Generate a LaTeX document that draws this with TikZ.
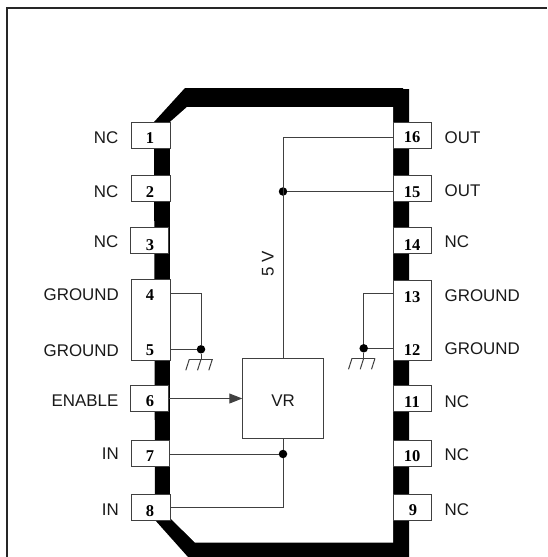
\documentclass[tikz,border=0pt]{standalone}
\usepackage{fontspec}
\setmainfont{Liberation Sans}
\newfontfamily\numfont{Liberation Serif}
\usetikzlibrary{arrows.meta}
\tikzset{
  x=1pt,y=-1pt,
  pinbox/.style={draw=black!75,fill=white,line width=1pt,inner sep=0pt},
  pinnum/.style={font=\numfont\bfseries\fontsize{16.5}{17}\selectfont,inner sep=0pt,anchor=base},
  lab/.style={font=\fontsize{16.9}{18}\selectfont,inner sep=0pt,text=black!90},
  wire/.style={draw=black!75,line width=1pt},
  dotn/.style={circle,fill=black,inner sep=0pt,minimum size=8.5pt},
}
\begin{document}
\begin{tikzpicture}
\useasboundingbox (0,0) rectangle (547,557);
% frame
\draw[black!85,line width=2pt] (7,557) -- (7,8) -- (547,8);
% package body
\fill[black] (154,122) -- (185,88) -- (403,88) -- (403,89) -- (409,89) -- (409,557) -- (188,557) -- (155,520) -- cycle;
\fill[white] (170,122) -- (187,107) -- (393,107) -- (393,542.5) -- (195,542.5) -- (170,518) -- cycle;
% pins left
\node[pinbox,minimum width=39pt,minimum height=26pt] (p1) at (150.5,135) {};
\node[pinbox,minimum width=39pt,minimum height=26pt] (p2) at (150.5,188) {};
\node[pinbox,minimum width=38pt,minimum height=26pt] (p3) at (149.5,240) {};
\node[pinbox,minimum width=39pt,minimum height=81pt] (p45) at (150.5,319.5) {};
\node[pinbox,minimum width=38pt,minimum height=26pt] (p6) at (149.5,398.7) {};
\node[pinbox,minimum width=38.5pt,minimum height=26pt] (p7) at (150.5,453) {};
\node[pinbox,minimum width=39pt,minimum height=26pt] (p8) at (150.5,507) {};
% pins right
\node[pinbox,minimum width=38pt,minimum height=26pt] (p16) at (412.5,135.5) {};
\node[pinbox,minimum width=38pt,minimum height=26pt] (p15) at (412.5,188) {};
\node[pinbox,minimum width=38pt,minimum height=26pt] (p14) at (412.5,240) {};
\node[pinbox,minimum width=38pt,minimum height=80pt] (p1312) at (412,320) {};
\node[pinbox,minimum width=38pt,minimum height=26pt] (p11) at (412,398.7) {};
\node[pinbox,minimum width=38pt,minimum height=26pt] (p10) at (412,453) {};
\node[pinbox,minimum width=38pt,minimum height=26pt] (p9) at (412,507) {};
% numbers
\node[pinnum] (n1) at (150,143) {1};
\node[pinnum] (n2) at (150,197) {2};
\node[pinnum] (n3) at (150,250.5) {3};
\node[pinnum] (n4) at (150,300.7) {4};
\node[pinnum] (n5) at (150,355) {5};
\node[pinnum] (n6) at (150,406.7) {6};
\node[pinnum] (n7) at (150,461) {7};
\node[pinnum] (n8) at (150,516) {8};
\node[pinnum] (n16) at (412,142) {16};
\node[pinnum] (n15) at (412,197) {15};
\node[pinnum] (n14) at (412,250) {14};
\node[pinnum] (n13) at (412,302) {13};
\node[pinnum] (n12) at (412,355) {12};
\node[pinnum] (n11) at (412,407) {11};
\node[pinnum] (n10) at (412,461) {10};
\node[pinnum] (n9) at (413,515) {9};
% labels
\node[lab,anchor=east] (l1) at (118.5,137.7) {NC};
\node[lab,anchor=east] (l2) at (118.5,191.7) {NC};
\node[lab,anchor=east] (l3) at (118.5,242) {NC};
\node[lab,anchor=east] (l4) at (119,295) {GROUND};
\node[lab,anchor=east] (l5) at (119,350.7) {GROUND};
\node[lab,anchor=east] (l6) at (118.5,400.7) {ENABLE};
\node[lab,anchor=east] (l7) at (119,454) {IN};
\node[lab,anchor=east] (l8) at (119,510) {IN};
\node[lab,anchor=west] (l16) at (444.5,137.7) {OUT};
\node[lab,anchor=west] (l15) at (444.5,190.7) {OUT};
\node[lab,anchor=west] (l14) at (444.5,242) {NC};
\node[lab,anchor=west] (l13) at (444.5,296) {GROUND};
\node[lab,anchor=west] (l12) at (444.5,349) {GROUND};
\node[lab,anchor=west] (l11) at (444.5,401.7) {NC};
\node[lab,anchor=west] (l10) at (444.5,455) {NC};
\node[lab,anchor=west] (l9) at (444.5,510) {NC};
\node[lab,rotate=90] (v5) at (268,264) {5 V};
% VR
\node[draw=black!75,line width=1pt,fill=white,minimum width=80.5pt,minimum height=79.5pt,inner sep=0pt] (vr) at (283,398.5) {};
\node[lab] (vrt) at (283,400.5) {VR};
% wiring
\coordinate (j16) at (283,137);
\node[dotn] (d15) at (283,191.5) {};
\node[dotn] (d78) at (283,454) {};
\draw[wire] (p16.west|-j16) -- (j16) -- (vr.north-|j16);
\draw[wire] (p15.west|-d15) -- (d15);
\draw[wire] (vr.south-|d78) -- (d78);
\draw[wire] (d78) |- (p8.east);
\draw[wire] (p7.east|-d78) -- (d78);
\draw[wire,-{Triangle[length=13pt,width=10pt]}] (p6.east|-vr.west) -- (vr.west);
% grounds
\node[dotn] (gl) at (201,349.3) {};
\node[dotn] (gr) at (363.7,348.3) {};
\coordinate (gl4) at (201,293);
\coordinate (gr13) at (363.7,293);
\draw[wire] (p45.east|-gl4) -- (gl4) -- (gl);
\draw[wire] (p45.east|-gl) -- (gl);
\draw[wire] (p1312.west|-gr13) -- (gr13) -- (gr);
\draw[wire] (p1312.west|-gr) -- (gr);
\coordinate (gla) at (201,359.3);
\coordinate (gra) at (363.7,358.3);
\draw[wire] (gl) -- (gla);
\draw[wire] (gr) -- (gra);
\draw[wire] ([xshift=-11.7pt]gla) -- ([xshift=12pt]gla);
\draw[wire] ([xshift=-12pt]gra) -- ([xshift=11.3pt]gra);
\foreach \c in {gla,gra}{
  \draw[wire] ([xshift=-11.7pt]\c) -- ++(-3.5,11);
  \draw[wire] ([xshift=0pt]\c) -- ++(-3.5,11);
  \draw[wire] ([xshift=11.3pt]\c) -- ++(-3.5,11);
}
\end{tikzpicture}
\end{document}
